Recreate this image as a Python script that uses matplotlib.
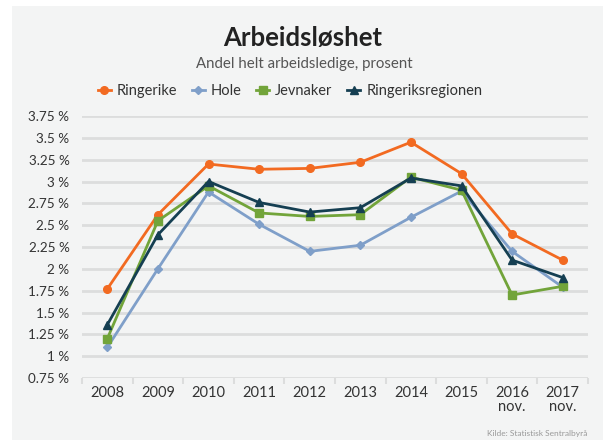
import matplotlib.pyplot as plt
import numpy as np
from matplotlib.patches import Rectangle

plt.rcParams['font.family'] = ['Lato', 'DejaVu Sans']

# data
years = ['2008', '2009', '2010', '2011', '2012', '2013', '2014', '2015', '2016\nnov.', '2017\nnov.']
ringerike = [1.77, 2.62, 3.20, 3.14, 3.15, 3.22, 3.45, 3.09, 2.40, 2.10]
hole = [1.10, 2.00, 2.88, 2.51, 2.20, 2.27, 2.59, 2.89, 2.20, 1.79]
jevnaker = [1.20, 2.55, 2.95, 2.64, 2.60, 2.62, 3.05, 2.90, 1.70, 1.80]
regionen = [1.36, 2.39, 3.00, 2.76, 2.65, 2.70, 3.04, 2.95, 2.10, 1.90]
yticks = [0.75, 1.0, 1.25, 1.5, 1.75, 2.0, 2.25, 2.5, 2.75, 3.0, 3.25, 3.5, 3.75]

bg = '#f3f4f4'
W, H = 603, 440
fig = plt.figure(figsize=(W / 100, H / 100), dpi=100)
fig.patch.set_facecolor('white')
fig.patches.append(Rectangle((12 / W, 0), 1 - 12 / W, 1 - 6 / H, transform=fig.transFigure,
                             facecolor=bg, edgecolor='none', zorder=-10))

ax = fig.add_axes([82 / W, 1 - 378 / H, (588 - 82) / W, (378 - 116) / H])
ax.set_facecolor(bg)
x = np.arange(len(years))

ax.plot(x, ringerike, color='#f26a21', lw=2, marker='o', ms=5.5, label='Ringerike', zorder=3)
ax.plot(x, hole, color='#7f9fc9', lw=2, marker='D', ms=4, label='Hole', zorder=3)
ax.plot(x, jevnaker, color='#72a43a', lw=2, marker='s', ms=5.5, label='Jevnaker', zorder=4)
ax.plot(x, regionen, color='#153f52', lw=2, marker='^', ms=6, label='Ringeriksregionen', zorder=5)

ax.set_ylim(0.75, 3.75)
ax.set_xlim(-0.5, len(years) - 0.5)
ax.set_yticks(yticks)
ax.set_yticklabels([('%g' % v) + ' %' for v in yticks])
ax.set_xticks(x)
ax.set_xticklabels(years, linespacing=0.95)
ax.set_xticks(np.arange(-0.5, len(years), 1), minor=True)
ax.tick_params(axis='x', which='major', length=0, pad=6, labelsize=10.5, labelcolor='#333333')
ax.tick_params(axis='x', which='minor', length=4, width=1.5, color='#dcdddd')
ax.tick_params(axis='y', length=0, pad=9, labelsize=9.7, labelcolor='#333333')
ax.grid(axis='y', color='#dcdddd', lw=2)
ax.set_axisbelow(True)
for s in ['top', 'right', 'left', 'bottom']:
    ax.spines[s].set_visible(False)

fig.text(303 / W, 1 - 38 / H, 'Arbeidsløshet', ha='center', va='center',
         fontsize=18.5, fontweight='bold', color='#222222')
fig.text(304 / W, 1 - 64 / H, 'Andel helt arbeidsledige, prosent', ha='center', va='center',
         fontsize=10.8, color='#555555')
fig.legend(loc='center', bbox_to_anchor=(290 / W, 1 - 91 / H), ncol=4, frameon=False,
           fontsize=10.5, handlelength=0.9, handletextpad=0.4, columnspacing=1.0,
           labelcolor='#333333')
fig.text(587 / W, 1 - 433 / H, 'Kilde: Statistisk Sentralbyrå', ha='right', va='center',
         fontsize=6, color='#999999')

fig.savefig('out.png', dpi=100, facecolor=fig.get_facecolor())
